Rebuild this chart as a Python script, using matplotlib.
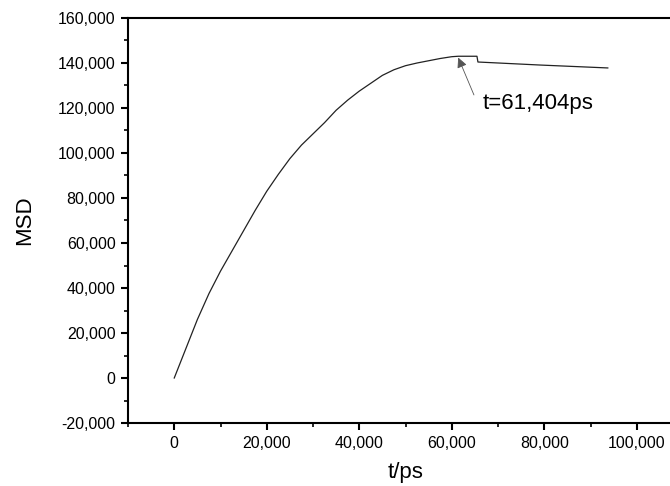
import matplotlib
matplotlib.use("Agg")
import matplotlib.pyplot as plt
from matplotlib.ticker import FuncFormatter, MultipleLocator

plt.rcParams['font.family'] = ['Liberation Sans', 'DejaVu Sans']

t_ps = [0, 2500, 5000, 7500, 10000, 12500, 15000, 17500, 20000, 22500,
        25000, 27500, 30000, 32500, 35000, 37500, 40000, 42500, 45000, 47500,
        50000, 52500, 55000, 57500, 60000, 61404, 65450, 65660, 79050, 93740]
msd = [0, 13000, 26000, 37500, 47500, 56500, 65500, 74500, 83000, 90500,
       97500, 103500, 108500, 113500, 119000, 123500, 127500, 131000, 134500, 137000,
       138800, 140000, 141000, 142000, 142800, 143000, 143000, 140440, 139100, 137800]

peak_t = 61404
peak_msd = 143000
annot_text = "t=61,404ps"

fig = plt.figure(figsize=(6.70, 4.86), dpi=100)
ax = fig.add_axes([128/670, 63/486, 555/670, 405/486])

ax.plot(t_ps, msd, color='#222222', lw=0.9)

ax.set_xlim(-10000, 110000)
ax.set_ylim(-20000, 160000)
ax.xaxis.set_major_locator(MultipleLocator(20000))
ax.xaxis.set_minor_locator(MultipleLocator(10000))
ax.yaxis.set_major_locator(MultipleLocator(20000))
ax.yaxis.set_minor_locator(MultipleLocator(10000))
fmt = FuncFormatter(lambda v, p: f"{int(round(v)):,}")
ax.xaxis.set_major_formatter(fmt)
ax.yaxis.set_major_formatter(fmt)

for s in ax.spines.values():
    s.set_linewidth(1.5)
ax.tick_params(which='major', direction='out', length=5, width=1.5, labelsize=11.5,
               top=False, right=False, pad=4)
ax.tick_params(which='minor', direction='out', length=3, width=1.2, top=False, right=False)

ax.set_xlabel("t/ps", fontsize=16, labelpad=8)
ax.set_ylabel("MSD", fontsize=16, labelpad=16)

ax.annotate('', xy=(peak_t, peak_msd - 600), xytext=(64800, 125800),
            arrowprops=dict(arrowstyle='-|>', color='#555555', lw=0.6,
                            mutation_scale=15, shrinkA=0, shrinkB=0,
                            facecolor='black', edgecolor='black'))
ax.text(66700, 121800, annot_text, fontsize=16, ha='left', va='center')

fig.savefig("out.png", dpi=100)
